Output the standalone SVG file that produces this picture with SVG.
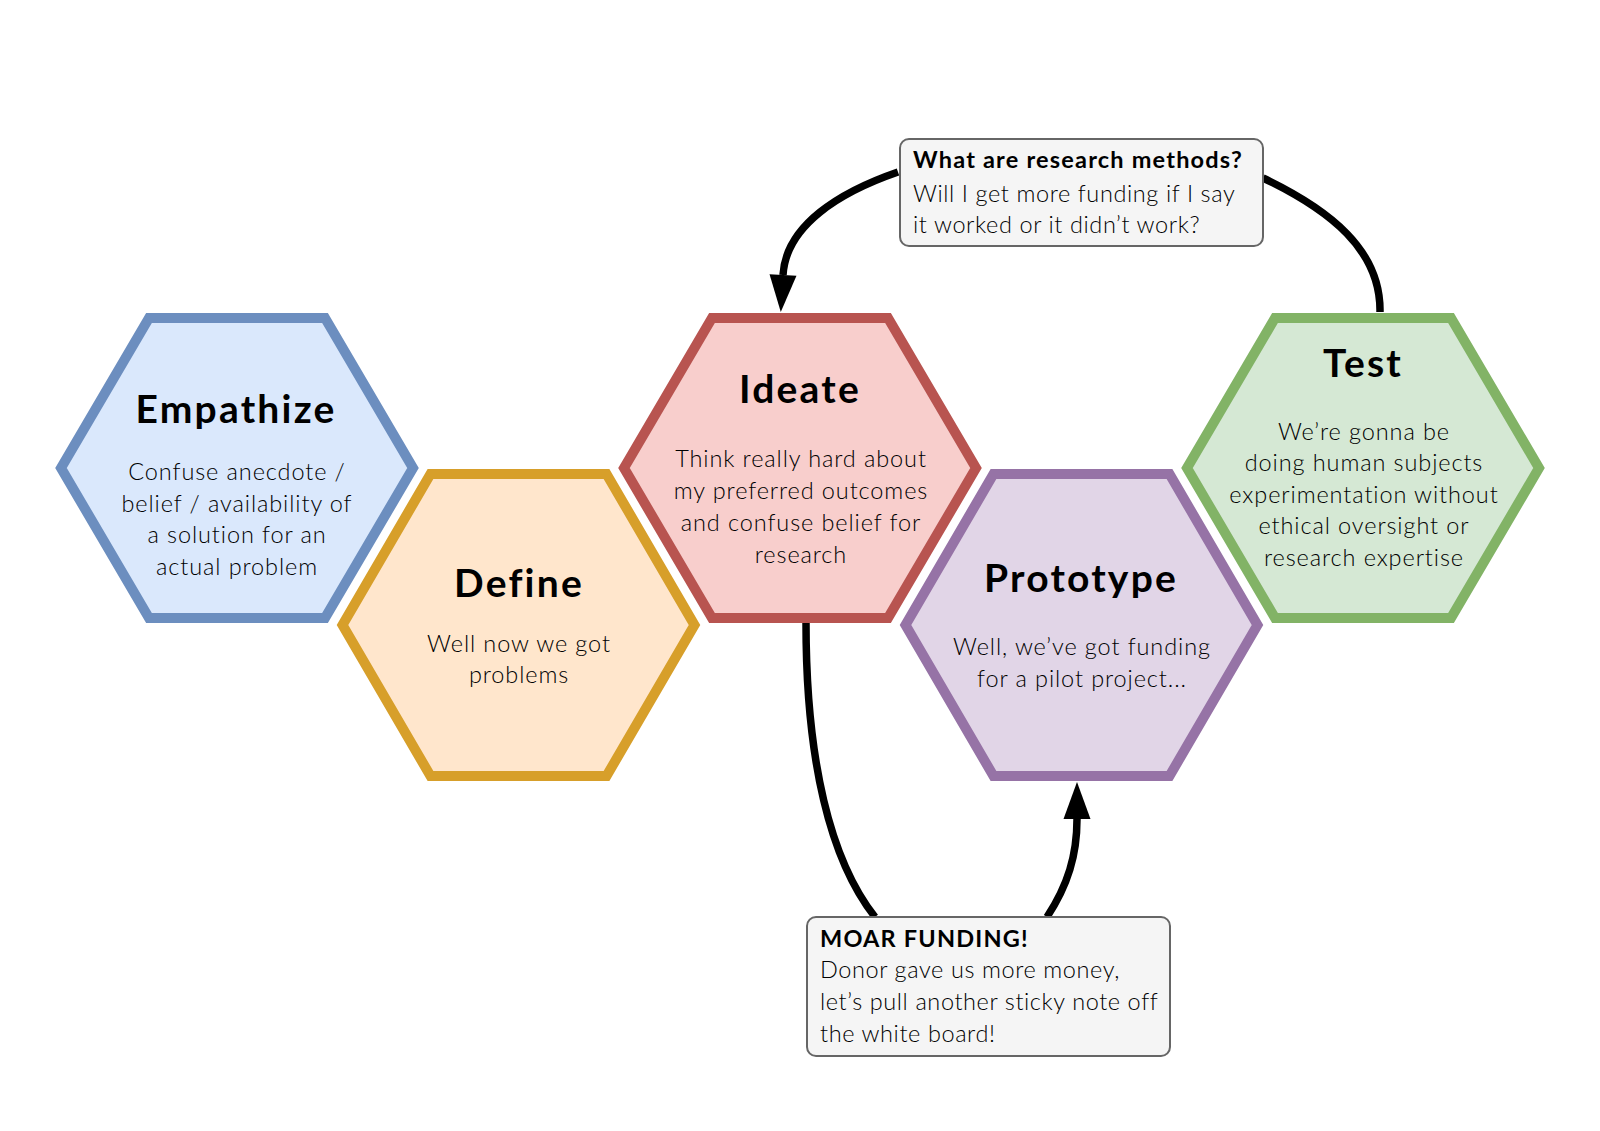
<svg xmlns="http://www.w3.org/2000/svg" width="1600" height="1131" viewBox="0 0 1600 1131">
<defs>
<style>
.hex{stroke-width:10;stroke-linejoin:miter}
.title{font-family:Lato,"Liberation Sans",sans-serif;font-weight:bold;font-size:39px;letter-spacing:2.2px;fill:#000;text-anchor:middle}
.body{font-family:Lato,"Liberation Sans",sans-serif;font-weight:300;font-size:23.5px;letter-spacing:0.9px;fill:#000;text-anchor:middle}
.note{fill:#f5f5f5;stroke:#666666;stroke-width:2}
.nt{font-family:Lato,"Liberation Sans",sans-serif;font-weight:300;font-size:23.5px;letter-spacing:0.6px;fill:#000}
.ntb{font-weight:bold;letter-spacing:1.2px}
.edge{fill:none;stroke:#000;stroke-width:7.5}
</style>
<marker id="arr" markerUnits="userSpaceOnUse" markerWidth="40" markerHeight="30" refX="0" refY="0" orient="auto" overflow="visible">
<path d="M0,-13.5 L37,0 L0,13.5 Z" fill="#000"/>
</marker>
</defs>
<rect width="1600" height="1131" fill="#ffffff"/>

<g id="connectors">
<path class="edge" d="M898,172 C840,192 786,225 783,275" marker-end="url(#arr)"/>
<path class="edge" d="M1263,178 C1330,210 1381,250 1380,312"/>
<path class="edge" d="M806,623 C806,760 830,860 875,917"/>
<path class="edge" d="M1047,917 C1068,885 1077,855 1077,819" marker-end="url(#arr)"/>
</g>

<g id="empathize">
<polygon class="hex" fill="#dae8fc" stroke="#6c8ebf" points="61,468 149,318 325,318 413,468 325,618 149,618"/>
<text class="title" x="236" y="423">Empathize</text>
<text class="body" x="237" y="480">Confuse anecdote /</text>
<text class="body" x="237" y="512">belief / availability of</text>
<text class="body" x="237" y="543">a solution for an</text>
<text class="body" x="237" y="575">actual problem</text>
</g>

<g id="define">
<polygon class="hex" fill="#ffe6cc" stroke="#d79f2a" points="342.5,625 430.5,474 606.5,474 694.5,625 606.5,776 430.5,776"/>
<text class="title" x="519" y="597">Define</text>
<text class="body" x="519" y="652">Well now we got</text>
<text class="body" x="519" y="683">problems</text>
</g>

<g id="ideate">
<polygon class="hex" fill="#f8cecc" stroke="#b85450" points="624,468 712,318 888,318 976,468 888,618 712,618"/>
<text class="title" x="800" y="403">Ideate</text>
<text class="body" x="801" y="467">Think really hard about</text>
<text class="body" x="801" y="499">my preferred outcomes</text>
<text class="body" x="801" y="531">and confuse belief for</text>
<text class="body" x="801" y="563">research</text>
</g>

<g id="prototype">
<polygon class="hex" fill="#e1d5e7" stroke="#9673a6" points="905.5,625 993.5,474 1169.5,474 1257.5,625 1169.5,776 993.5,776"/>
<text class="title" x="1081" y="592">Prototype</text>
<text class="body" x="1082" y="655">Well, we’ve got funding</text>
<text class="body" x="1082" y="687">for a pilot project...</text>
</g>

<g id="test">
<polygon class="hex" fill="#d5e8d4" stroke="#82b366" points="1187,468 1275,318 1451,318 1539,468 1451,618 1275,618"/>
<text class="title" x="1363" y="377">Test</text>
<text class="body" x="1364" y="440">We’re gonna be</text>
<text class="body" x="1364" y="471">doing human subjects</text>
<text class="body" x="1364" y="503">experimentation without</text>
<text class="body" x="1364" y="534">ethical oversight or</text>
<text class="body" x="1364" y="566">research expertise</text>
</g>

<g id="note-methods">
<rect class="note" x="900" y="139" width="363" height="107" rx="9"/>
<text class="nt ntb" x="913" y="168">What are research methods?</text>
<text class="nt" x="913" y="202">Will I get more funding if I say</text>
<text class="nt" x="913" y="233">it worked or it didn’t work?</text>
</g>

<g id="note-funding">
<rect class="note" x="807" y="917" width="363" height="139" rx="9"/>
<text class="nt ntb" x="820" y="947">MOAR FUNDING!</text>
<text class="nt" x="820" y="978">Donor gave us more money,</text>
<text class="nt" x="820" y="1010">let’s pull another sticky note off</text>
<text class="nt" x="820" y="1042">the white board!</text>
</g>
</svg>
